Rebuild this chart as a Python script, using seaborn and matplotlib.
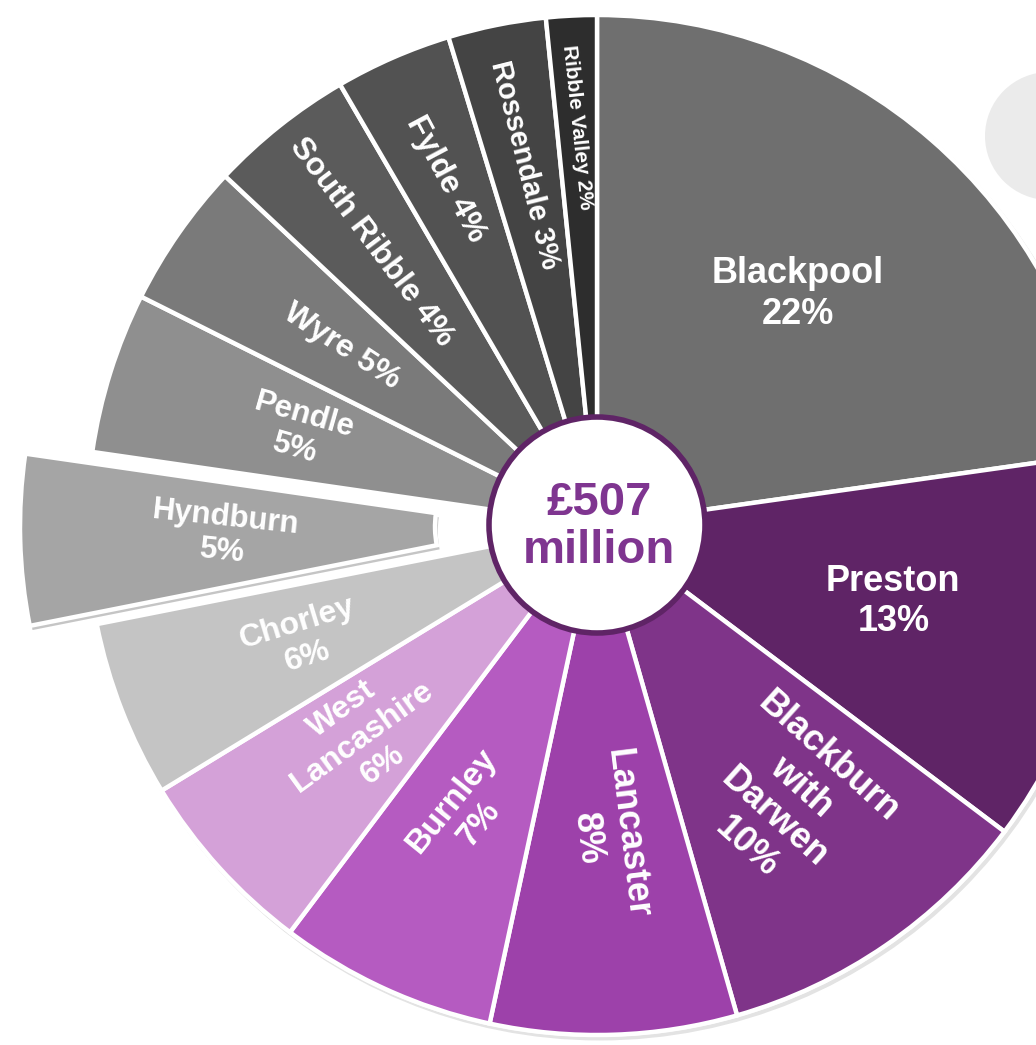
import numpy as np
import matplotlib
matplotlib.use("Agg")
import matplotlib.pyplot as plt
import matplotlib.patheffects as pe
from matplotlib.patches import Circle
import seaborn as sns

# ---------------- data ----------------
districts = ["Blackpool", "Preston", "Blackburn\nwith\nDarwen", "Lancaster", "Burnley",
             "West\nLancashire", "Chorley", "Hyndburn", "Pendle", "Wyre",
             "South Ribble", "Fylde", "Rossendale", "Ribble Valley"]
shares = [22.75, 12.5, 10.3, 7.8, 6.9, 6.0, 5.6, 5.4, 5.1, 4.6, 4.6, 3.7, 3.1, 1.6]
pct_labels = ["22%", "13%", "10%", "8%", "7%", "6%", "6%", "5%", "5%", "5%",
              "4%", "4%", "3%", "2%"]
total_label = "£507\nmillion"

# ---------------- style ----------------
colors = ["#6f6f6f", "#5f2466", "#7f3489", "#9d41aa", "#b55bc1", "#d4a1d8",
          "#c4c4c4", "#a5a5a5", "#8f8f8f", "#7a7a7a", "#5b5b5b", "#525252",
          "#444444", "#2d2d2d"]
explode_px = [0, 0, 0, 0, 0, 0, 0, 67, 0, 0, 0, 0, 0, 0]
joiner = ["\n"] * 9 + [" "] * 5
label_dist = [0.60, 0.60, 0.66, 0.61, 0.62, 0.62, 0.62, 0.60, 0.61, 0.61, 0.71, 0.74, 0.72, 0.78]
label_rot = [0, 0, -42, -83, 51, 36, 17, -6, -16, -33, -53, -62, -76, -84]
label_fs = [26, 26, 26, 26, 24, 23, 23, 22.5, 22.5, 23, 23, 23, 21, 15]

sns.set_theme(style="white")
plt.rcParams["font.family"] = ["Liberation Sans", "DejaVu Sans"]

W, H = 1036, 1045
fig = plt.figure(figsize=(W / 100, H / 100), dpi=100)
ax = fig.add_axes([0, 0, 1, 1])

cx, cy = 597, 520
R = 510

# decorative background circle
ax.add_patch(Circle((1049, 909), 64, fc="#ebebeb", ec="none", zorder=0))

# pie base with soft shadow
base = Circle((cx, cy), R + 2, fc="white", ec="none", zorder=1,
              path_effects=[pe.SimplePatchShadow(offset=(2, -2.5), shadow_rgbFace="k", alpha=0.12),
                            pe.Normal()])
ax.add_patch(base)

wedges, _ = ax.pie(shares, colors=colors, explode=explode_px, startangle=90,
                   counterclock=False, center=(cx, cy), radius=R,
                   wedgeprops=dict(width=415, edgecolor="white", linewidth=3.2),
                   frame=False)
for w in wedges:
    w.set_zorder(2)
wedges[7].set_zorder(3)
wedges[7].set_path_effects([pe.SimplePatchShadow(offset=(2, -3), shadow_rgbFace="k", alpha=0.25),
                            pe.Normal()])

for i, w in enumerate(wedges):
    mid = np.deg2rad((w.theta1 + w.theta2) / 2)
    wx, wy = w.center
    d = label_dist[i] * R
    ax.text(wx + d * np.cos(mid), wy + d * np.sin(mid),
            districts[i] + joiner[i] + pct_labels[i],
            ha="center", va="center", rotation=label_rot[i],
            rotation_mode="anchor", fontsize=label_fs[i], fontweight="bold",
            color="white", linespacing=1.2, multialignment="center", zorder=5)

# centre circle
ax.add_patch(Circle((cx, cy), 108, fc="white", ec="#5f2466", lw=4, zorder=6))
ax.text(cx + 2, cy - 2, total_label, ha="center", va="center", fontsize=34,
        fontweight="bold", color="#7f3590", linespacing=1.12, zorder=7)

ax.set_xlim(0, W)
ax.set_ylim(0, H)
ax.set_aspect("equal")
ax.axis("off")
fig.savefig("out.png", dpi=100, facecolor="white")
